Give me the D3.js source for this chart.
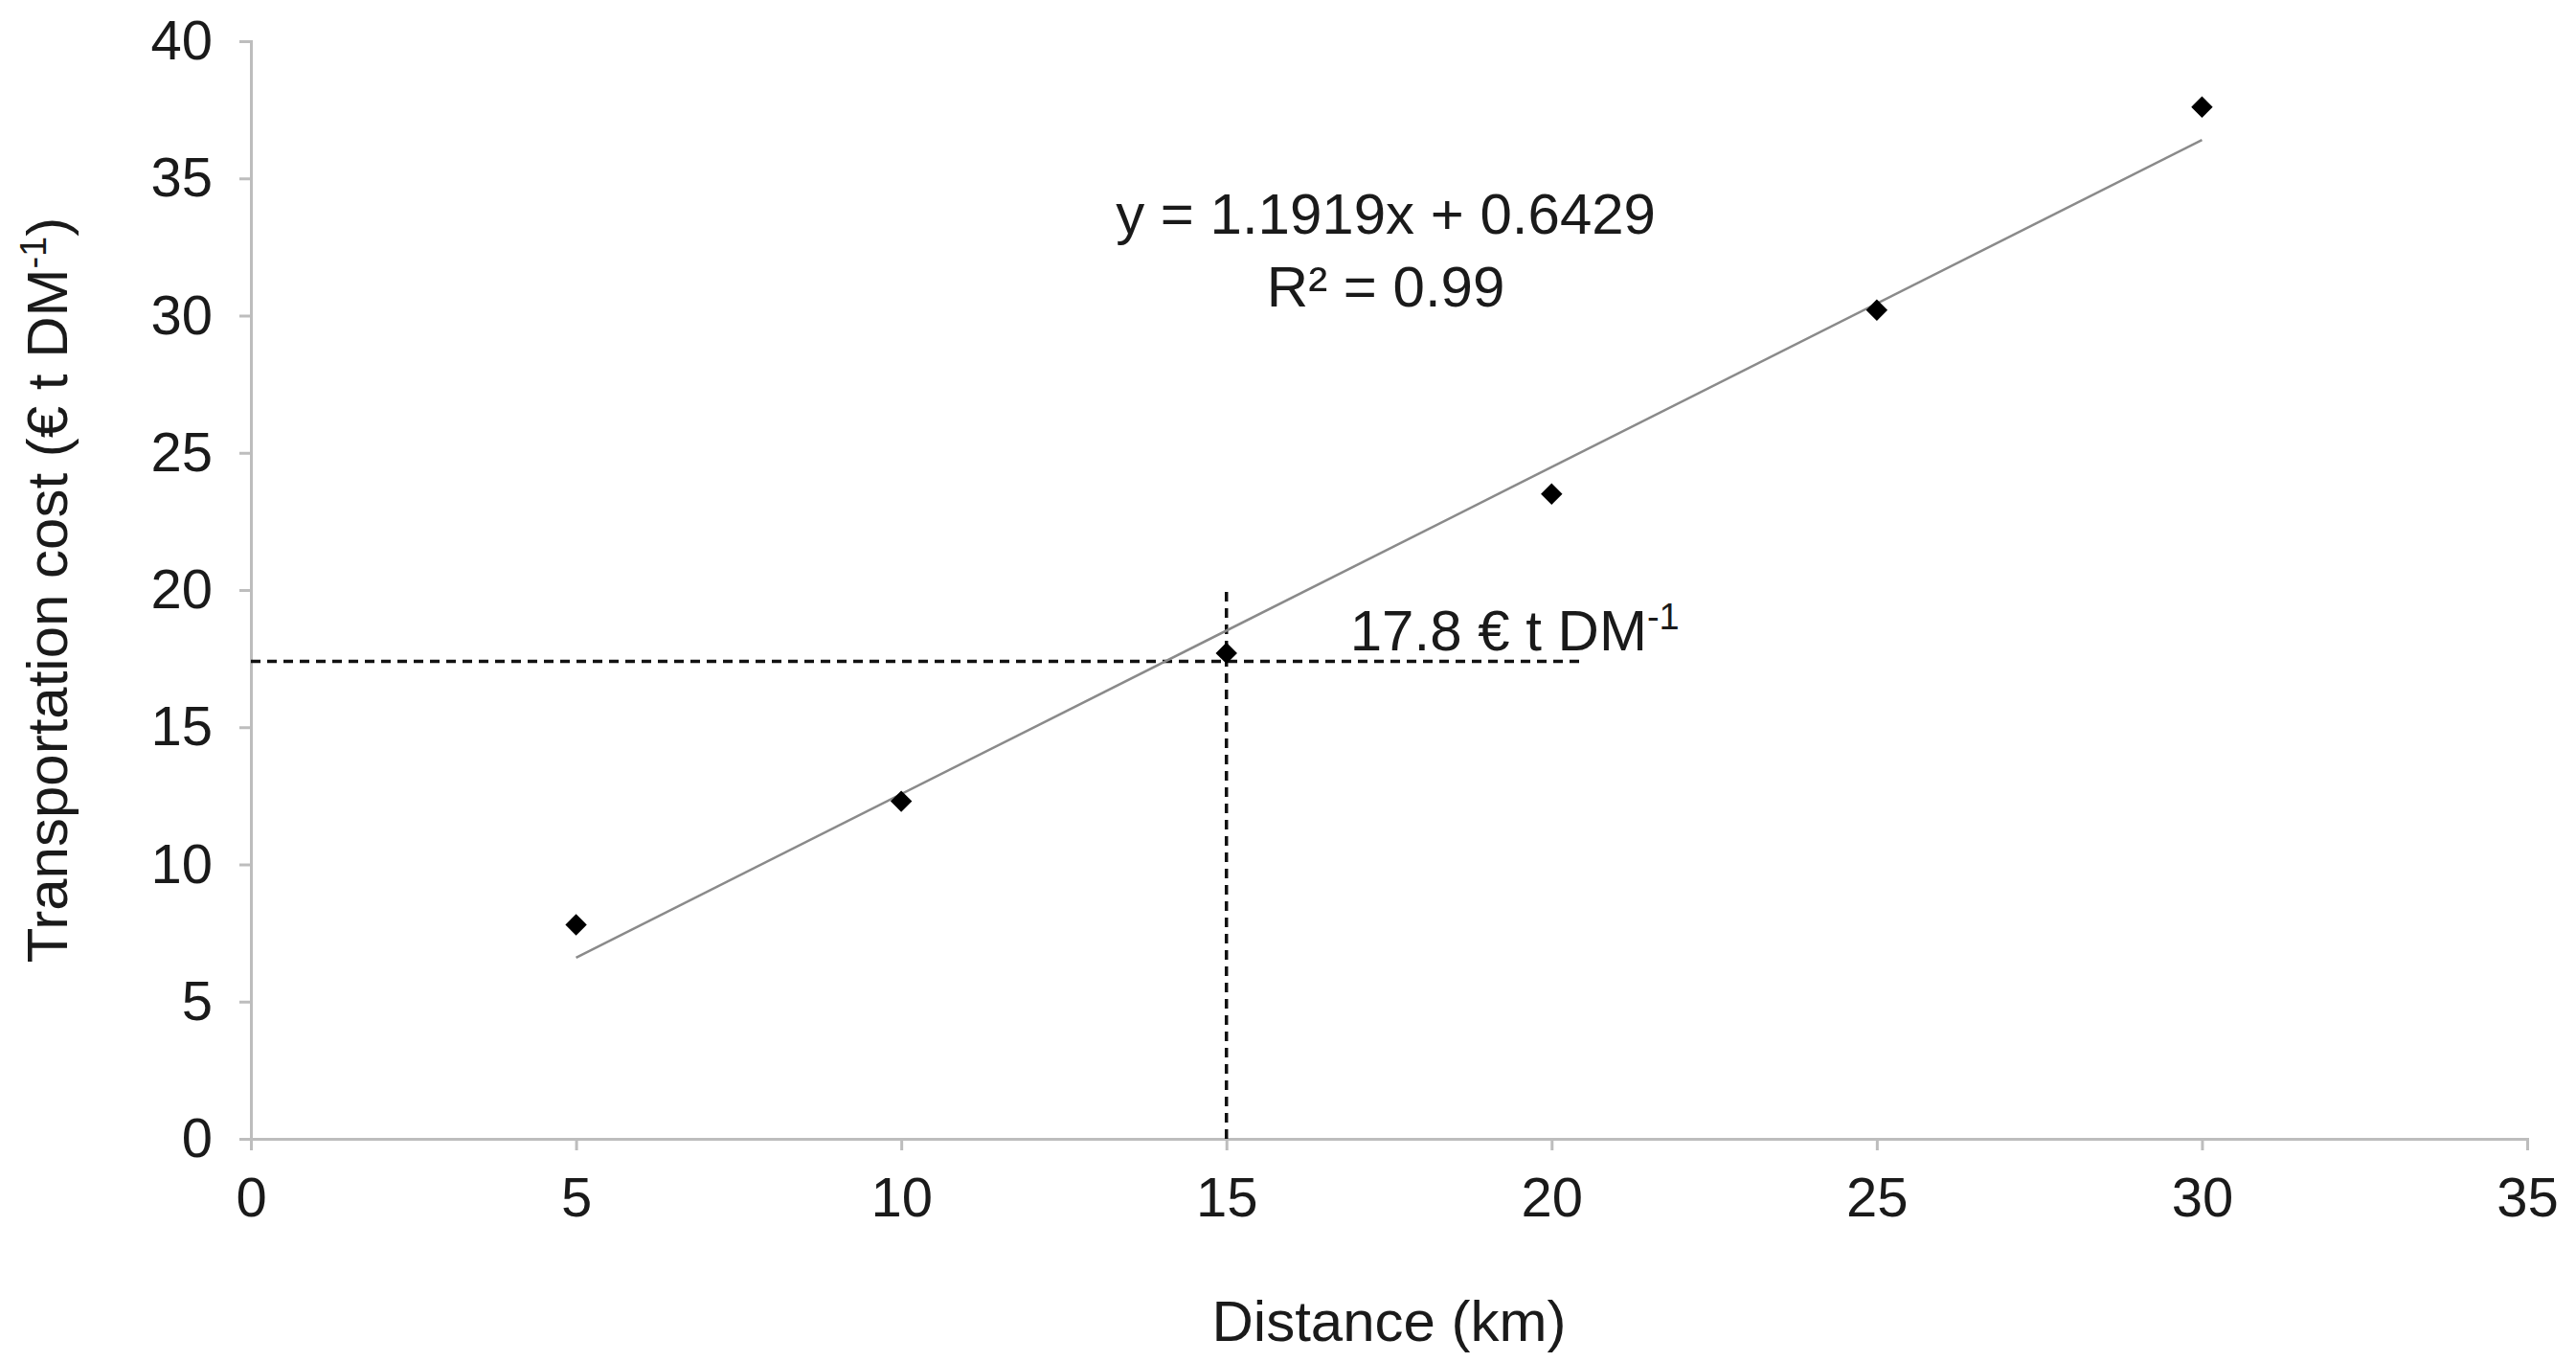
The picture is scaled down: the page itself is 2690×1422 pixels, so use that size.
<!DOCTYPE html>
<html lang="en">
<head>
<meta charset="UTF-8">
<script src="https://cdnjs.cloudflare.com/ajax/libs/d3/7.8.5/d3.min.js"></script>
<style>
  body { margin: 0; background: #fff; }
  text { font-family: "Liberation Sans", Arial, sans-serif; fill: #1a1a1a; }
</style>
</head>
<body>
<svg id="chart" width="2690" height="1422"></svg>
<script>
  const distance = [5, 10, 15, 20, 25, 30];
  const cost = [7.8, 12.3, 17.7, 23.5, 30.2, 37.6];
  const slope = 1.1919, intercept = 0.6429;
  const xTicks = [0, 5, 10, 15, 20, 25, 30, 35];
  const yTicks = [0, 5, 10, 15, 20, 25, 30, 35, 40];
  const refX = 15, refY = 17.4, refXEnd = 20.45, refYEnd = 20;

  const svg = d3.select('#chart');
  const x = d3.scaleLinear().domain([0, 35]).range([262, 2639]);
  const y = d3.scaleLinear().domain([0, 40]).range([1189, 43]);
  const axisColor = '#bdbdbd';

  const xAxis = svg.append('g').attr('transform', `translate(0,${y(0)})`)
    .call(d3.axisBottom(x).tickValues(xTicks).tickSize(12).tickPadding(28).tickFormat(d3.format('d')));
  const yAxis = svg.append('g').attr('transform', `translate(${x(0)},0)`)
    .call(d3.axisLeft(y).tickValues(yTicks).tickSize(12).tickPadding(28).tickFormat(d3.format('d')));
  [xAxis, yAxis].forEach(g => {
    g.select('.domain').attr('stroke', axisColor).attr('stroke-width', 3);
    g.selectAll('.tick line').attr('stroke', axisColor).attr('stroke-width', 3);
    g.selectAll('.tick text').style('font-size', '58px').attr('fill', '#1a1a1a');
  });

  // reference dashed lines
  svg.append('line')
    .attr('x1', x(0)).attr('x2', x(refXEnd)).attr('y1', y(refY)).attr('y2', y(refY))
    .attr('stroke', '#111').attr('stroke-width', 3.5).attr('stroke-dasharray', '10,7');
  svg.append('line')
    .attr('x1', x(refX)).attr('x2', x(refX)).attr('y1', y(0)).attr('y2', y(refYEnd))
    .attr('stroke', '#111').attr('stroke-width', 3.5).attr('stroke-dasharray', '10,7');

  // trend line
  const fit = d3.extent(distance);
  svg.append('line')
    .attr('x1', x(fit[0])).attr('y1', y(slope * fit[0] + intercept))
    .attr('x2', x(fit[1])).attr('y2', y(slope * fit[1] + intercept))
    .attr('stroke', '#8a8a8a').attr('stroke-width', 2.5);

  // points
  svg.selectAll('.pt').data(distance).enter().append('path')
    .attr('d', d3.symbol(d3.symbolDiamond2, 320))
    .attr('transform', (d, i) => `translate(${x(d)},${y(cost[i])})`)
    .attr('fill', '#000');

  // annotations
  const eq = svg.append('text').attr('text-anchor', 'middle').style('font-size', '60px');
  eq.append('tspan').attr('x', x(17.45)).attr('y', 244).text('y = 1.1919x + 0.6429');
  eq.append('tspan').attr('x', x(17.45)).attr('y', 320).text('R² = 0.99');

  const lab = svg.append('text').attr('x', x(16.9)).attr('y', y(17.8)).style('font-size', '60px');
  lab.append('tspan').text('17.8 € t DM');
  lab.append('tspan').attr('dy', -22).style('font-size', '38px').text('-1');

  svg.append('text').attr('x', x(17.5)).attr('y', 1400).attr('text-anchor', 'middle')
    .style('font-size', '60px').text('Distance (km)');

  const yt = svg.append('text').attr('transform', `translate(70,${y(20)}) rotate(-90)`)
    .attr('text-anchor', 'middle').style('font-size', '60px');
  yt.append('tspan').text('Transportation cost (€ t DM');
  yt.append('tspan').attr('dy', -22).style('font-size', '38px').text('-1');
  yt.append('tspan').attr('dy', 22).text(')');
</script>
</body>
</html>
